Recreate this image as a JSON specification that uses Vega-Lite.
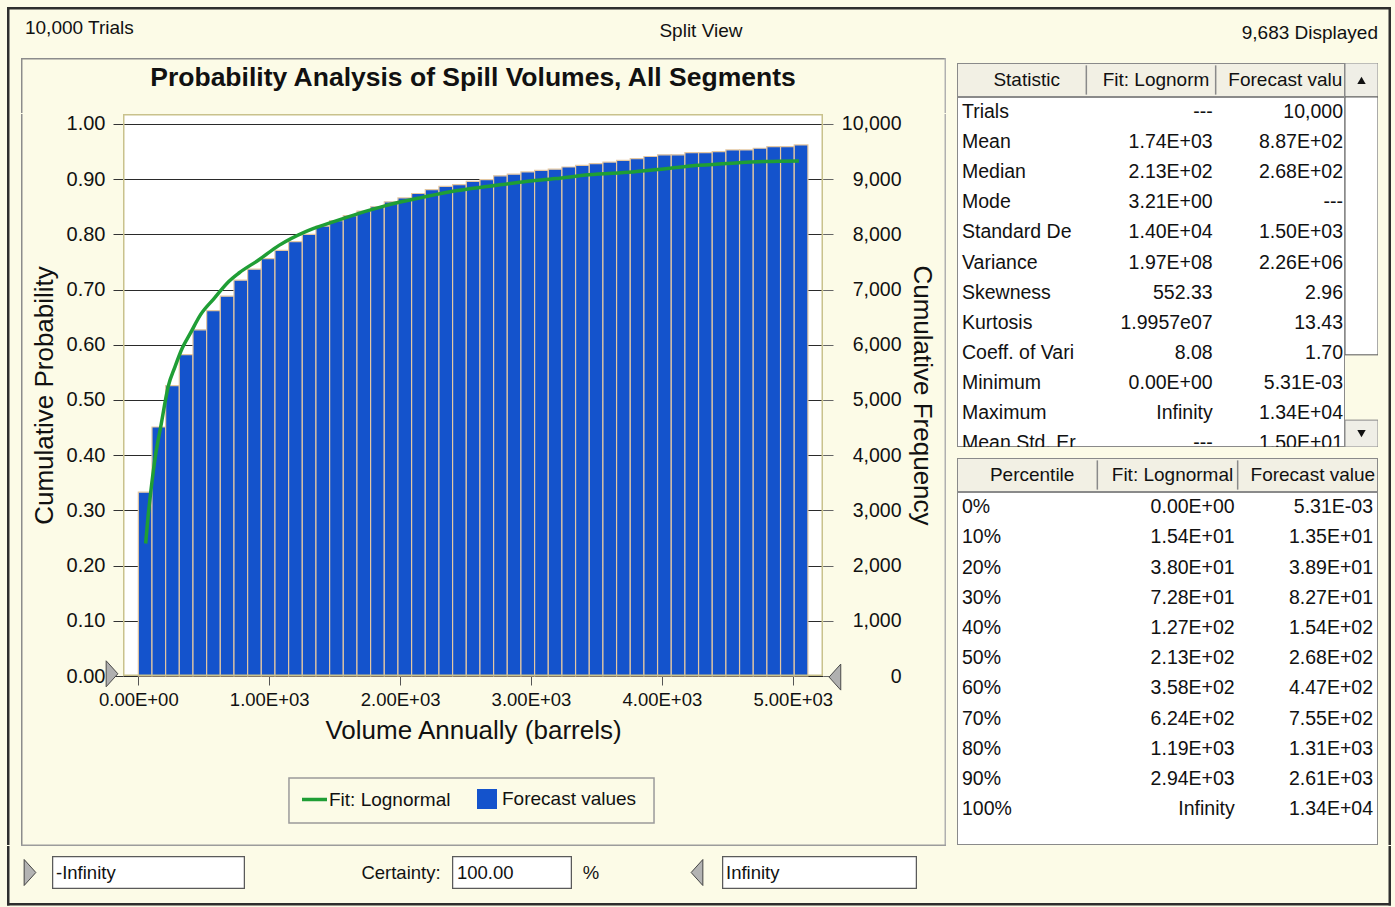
{
"$schema": "https://vega.github.io/schema/vega-lite/v6.json",
"background": "#fcfbe7",
"padding": 0,
"spacing": 0,
"config": {"font": "Liberation Sans", "view": {"stroke": null}, "text": {"font": "Liberation Sans", "color": "#111"}},
"vconcat": [
{
"width": 1395, "height": 58,
"data": {"values": [{}]},
"layer": [
 {"mark": {"type": "rect", "color": "#2e2e2e", "opacity": 1},
  "encoding": {
   "x": {"datum": 0.005018, "type": "quantitative", "scale": {"domain": [0, 1], "nice": false, "zero": false}, "axis": null},
   "x2": {"datum": 0.99713},
   "y": {"datum": 0.8793, "type": "quantitative", "scale": {"domain": [0, 1], "nice": false, "zero": false}, "axis": null},
   "y2": {"datum": 0.8362}}},
 {"mark": {"type": "rect", "color": "#2e2e2e", "opacity": 1},
  "encoding": {"x": {"datum": 0.005018, "type": "quantitative", "axis": null}, "x2": {"datum": 0.00681},
               "y": {"datum": 0.8793, "type": "quantitative", "axis": null}, "y2": {"datum": 0}}},
 {"mark": {"type": "rect", "color": "#2e2e2e", "opacity": 1},
  "encoding": {"x": {"datum": 0.99534, "type": "quantitative", "axis": null}, "x2": {"datum": 0.99713},
               "y": {"datum": 0.8793, "type": "quantitative", "axis": null}, "y2": {"datum": 0}}},
 {"mark": {"type": "text", "align": "left", "fontSize": 19, "clip": true},
  "encoding": {"x": {"datum": 0.0179, "type": "quantitative", "axis": null}, "y": {"datum": 0.517, "type": "quantitative", "axis": null}, "text": {"value": "10,000 Trials"}}},
 {"mark": {"type": "text", "align": "center", "fontSize": 19, "clip": true},
  "encoding": {"x": {"datum": 0.5025, "type": "quantitative", "axis": null}, "y": {"datum": 0.466, "type": "quantitative", "axis": null}, "text": {"value": "Split View"}}},
 {"mark": {"type": "text", "align": "right", "fontSize": 19, "clip": true},
  "encoding": {"x": {"datum": 0.9878, "type": "quantitative", "axis": null}, "y": {"datum": 0.431, "type": "quantitative", "axis": null}, "text": {"value": "9,683 Displayed"}}}
]
},
{
"spacing": 0,
"hconcat": [
 {"width": 20, "height": 787, "data": {"values": [{}]},
  "mark": {"type": "rect", "color": "#2e2e2e", "opacity": 1},
  "encoding": {"x": {"datum": 0.35, "type": "quantitative", "scale": {"domain": [0, 1], "nice": false, "zero": false}, "axis": null}, "x2": {"datum": 0.475}}},
 {"spacing": 0, "vconcat": [
  {"width": 700, "height": 55,
   "data": {"values": [{"t": "Probability Analysis of Spill Volumes, All Segments"}]},
   "layer": [
    {"mark": {"type": "text", "fontSize": 26.5, "fontWeight": "bold", "dy": -7.5}, "encoding": {"text": {"field": "t"}}},
    {"mark": {"type": "rect", "color": "#8c8c8c", "opacity": 1},
     "encoding": {"x": {"datum": -0.1457, "type": "quantitative", "scale": {"domain": [0, 1], "nice": false, "zero": false}, "axis": null},
                  "x2": {"datum": 1.1757},
                  "y": {"datum": 1, "type": "quantitative", "scale": {"domain": [0, 1], "nice": false, "zero": false}, "axis": null},
                  "y2": {"datum": 0.9727}}},
    {"mark": {"type": "rect", "color": "#8c8c8c", "opacity": 1},
     "encoding": {"x": {"datum": -0.1457, "type": "quantitative", "axis": null}, "x2": {"datum": -0.1436},
                  "y": {"datum": 1, "type": "quantitative", "axis": null}, "y2": {"datum": 0}}},
    {"mark": {"type": "rect", "color": "#b0b0b0", "opacity": 1},
     "encoding": {"x": {"datum": 1.1736, "type": "quantitative", "axis": null}, "x2": {"datum": 1.1757},
                  "y": {"datum": 1, "type": "quantitative", "axis": null}, "y2": {"datum": 0}}}
   ]},
  {"width": 700, "height": 562,
   "view": {"fill": "white"},
   "resolve": {"axis": {"y": "independent"}},
   "layer": [
    {"data": {"values": [
      {"lo": 0, "hi": 104.4, "cum": 0.333},
      {"lo": 104.4, "hi": 208.8, "cum": 0.451},
      {"lo": 208.8, "hi": 313.2, "cum": 0.526},
      {"lo": 313.2, "hi": 417.6, "cum": 0.582},
      {"lo": 417.6, "hi": 522, "cum": 0.627},
      {"lo": 522, "hi": 626.4, "cum": 0.662},
      {"lo": 626.4, "hi": 730.8, "cum": 0.688},
      {"lo": 730.8, "hi": 835.2, "cum": 0.717},
      {"lo": 835.2, "hi": 939.6, "cum": 0.737},
      {"lo": 939.6, "hi": 1044, "cum": 0.756},
      {"lo": 1044, "hi": 1148.4, "cum": 0.771},
      {"lo": 1148.4, "hi": 1252.8, "cum": 0.787},
      {"lo": 1252.8, "hi": 1357.2, "cum": 0.8},
      {"lo": 1357.2, "hi": 1461.6, "cum": 0.815},
      {"lo": 1461.6, "hi": 1566, "cum": 0.825},
      {"lo": 1566, "hi": 1670.4, "cum": 0.834},
      {"lo": 1670.4, "hi": 1774.8, "cum": 0.842},
      {"lo": 1774.8, "hi": 1879.2, "cum": 0.85},
      {"lo": 1879.2, "hi": 1983.6, "cum": 0.859},
      {"lo": 1983.6, "hi": 2088, "cum": 0.866},
      {"lo": 2088, "hi": 2192.4, "cum": 0.874},
      {"lo": 2192.4, "hi": 2296.8, "cum": 0.881},
      {"lo": 2296.8, "hi": 2401.2, "cum": 0.887},
      {"lo": 2401.2, "hi": 2505.6, "cum": 0.89},
      {"lo": 2505.6, "hi": 2610, "cum": 0.896},
      {"lo": 2610, "hi": 2714.4, "cum": 0.899},
      {"lo": 2714.4, "hi": 2818.8, "cum": 0.906},
      {"lo": 2818.8, "hi": 2923.2, "cum": 0.909},
      {"lo": 2923.2, "hi": 3027.6, "cum": 0.913},
      {"lo": 3027.6, "hi": 3132, "cum": 0.916},
      {"lo": 3132, "hi": 3236.4, "cum": 0.918},
      {"lo": 3236.4, "hi": 3340.8, "cum": 0.922},
      {"lo": 3340.8, "hi": 3445.2, "cum": 0.925},
      {"lo": 3445.2, "hi": 3549.6, "cum": 0.928},
      {"lo": 3549.6, "hi": 3654, "cum": 0.931},
      {"lo": 3654, "hi": 3758.4, "cum": 0.934},
      {"lo": 3758.4, "hi": 3862.8, "cum": 0.937},
      {"lo": 3862.8, "hi": 3967.2, "cum": 0.941},
      {"lo": 3967.2, "hi": 4071.6, "cum": 0.944},
      {"lo": 4071.6, "hi": 4176, "cum": 0.944},
      {"lo": 4176, "hi": 4280.4, "cum": 0.948},
      {"lo": 4280.4, "hi": 4384.8, "cum": 0.948},
      {"lo": 4384.8, "hi": 4489.2, "cum": 0.95},
      {"lo": 4489.2, "hi": 4593.6, "cum": 0.953},
      {"lo": 4593.6, "hi": 4698, "cum": 0.953},
      {"lo": 4698, "hi": 4802.4, "cum": 0.956},
      {"lo": 4802.4, "hi": 4906.8, "cum": 0.959},
      {"lo": 4906.8, "hi": 5011.2, "cum": 0.959},
      {"lo": 5011.2, "hi": 5115.6, "cum": 0.962}
     ]},
     "mark": {"type": "rect", "stroke": "#e3c7a2", "strokeWidth": 1.2},
     "encoding": {
      "x": {"field": "lo", "type": "quantitative", "scale": {"domain": [-117, 5231], "nice": false, "zero": false},
            "axis": {"orient": "bottom", "title": "Volume Annually (barrels)", "values": [0, 1000, 2000, 3000, 4000, 5000],
                     "labelExpr": "datum.value == 0 ? '0.00E+00' : format(datum.value / 1000, '.2f') + 'E+03'",
                     "grid": false, "domain": false, "tickColor": "#555", "tickSize": 9, "labelPadding": 5,
                     "labelFontSize": 18.5, "labelColor": "#111", "titleFontSize": 26, "titleFontWeight": "normal",
                     "titleColor": "#111", "titlePadding": 9, "labelFlush": false, "labelOverlap": false}},
      "x2": {"field": "hi"},
      "y": {"field": "cum", "type": "quantitative", "scale": {"domain": [0, 1.018], "nice": false, "zero": false},
            "axis": {"title": "Cumulative Probability", "values": [0, 0.1, 0.2, 0.3, 0.4, 0.5, 0.6, 0.7, 0.8, 0.9, 1],
                     "format": ".2f", "grid": true, "gridColor": "#2a2a2a", "gridWidth": 1, "domain": false,
                     "tickColor": "#333", "tickSize": 10, "labelPadding": 8, "labelFontSize": 20, "labelColor": "#111",
                     "titleFontSize": 26, "titleFontWeight": "normal", "titleColor": "#111", "titlePadding": 9,
                     "labelFlush": false, "labelOverlap": false}},
      "y2": {"datum": 0},
      "color": {"datum": "Forecast values", "type": "nominal",
                "scale": {"domain": ["Forecast values"], "range": ["#1453cc"]},
                "legend": {"orient": "none", "legendX": 477, "legendY": 789, "title": null, "padding": 0,
                           "labelFontSize": 19, "labelColor": "#111", "labelFont": "Liberation Sans", "symbolSize": 400,
                           "symbolType": "square", "symbolStrokeColor": "transparent", "symbolStrokeWidth": 0, "symbolOpacity": 1,
                           "labelOffset": 5}}
     }},
    {"data": {"values": [
      {"v": 56, "cum": 0.24}, {"v": 75, "cum": 0.29}, {"v": 95, "cum": 0.333}, {"v": 133, "cum": 0.402},
      {"v": 171, "cum": 0.451}, {"v": 229, "cum": 0.525}, {"v": 280, "cum": 0.56}, {"v": 336, "cum": 0.594},
      {"v": 400, "cum": 0.622}, {"v": 477, "cum": 0.655}, {"v": 580, "cum": 0.684}, {"v": 693, "cum": 0.715},
      {"v": 769, "cum": 0.73}, {"v": 922, "cum": 0.754}, {"v": 1075, "cum": 0.78}, {"v": 1279, "cum": 0.805},
      {"v": 1482, "cum": 0.822}, {"v": 1686, "cum": 0.838}, {"v": 1890, "cum": 0.852}, {"v": 2170, "cum": 0.867},
      {"v": 2425, "cum": 0.879}, {"v": 2679, "cum": 0.887}, {"v": 2934, "cum": 0.895}, {"v": 3189, "cum": 0.901},
      {"v": 3443, "cum": 0.908}, {"v": 3774, "cum": 0.913}, {"v": 4029, "cum": 0.919}, {"v": 4284, "cum": 0.925},
      {"v": 4538, "cum": 0.929}, {"v": 4793, "cum": 0.932}, {"v": 5047, "cum": 0.933}
     ]},
     "mark": {"type": "line", "strokeWidth": 3.5, "interpolate": "monotone"},
     "encoding": {
      "x": {"field": "v", "type": "quantitative", "scale": {"domain": [-117, 5231], "nice": false, "zero": false},
            "axis": {"orient": "bottom", "title": "Volume Annually (barrels)", "values": [0, 1000, 2000, 3000, 4000, 5000],
                     "labelExpr": "datum.value == 0 ? '0.00E+00' : format(datum.value / 1000, '.2f') + 'E+03'",
                     "grid": false, "domain": false, "tickColor": "#555", "tickSize": 9, "labelPadding": 5,
                     "labelFontSize": 18.5, "labelColor": "#111", "titleFontSize": 26, "titleFontWeight": "normal",
                     "titleColor": "#111", "titlePadding": 9, "labelFlush": false, "labelOverlap": false}},
      "y": {"field": "cum", "type": "quantitative", "scale": {"domain": [0, 1.018], "nice": false, "zero": false},
            "axis": {"orient": "right", "title": "Cumulative Frequency", "values": [0, 0.1, 0.2, 0.3, 0.4, 0.5, 0.6, 0.7, 0.8, 0.9, 1],
                     "labelExpr": "format(datum.value * 10000, ',.0f')", "grid": false, "domain": false,
                     "tickColor": "#666", "tickSize": 10, "labelPadding": 68, "labelAlign": "right", "labelFontSize": 19.5, "labelColor": "#111",
                     "titleFontSize": 26, "titleFontWeight": "normal", "titleColor": "#111", "titlePadding": 7,
                     "labelFlush": false, "labelOverlap": false}},
      "stroke": {"datum": "Fit: Lognormal", "type": "nominal",
                 "scale": {"domain": ["Fit: Lognormal"], "range": ["#1f9e35"]},
                 "legend": {"orient": "none", "legendX": 300, "legendY": 785, "title": null, "padding": 0,
                            "labelFontSize": 19, "labelColor": "#111", "labelFont": "Liberation Sans",
                            "symbolType": "stroke", "symbolSize": 625, "symbolStrokeWidth": 3.5, "labelOffset": 0}}
     }},
    {"data": {"values": [{}]},
     "mark": {"type": "rect", "filled": false, "stroke": "#c9c28c", "strokeWidth": 3, "clip": true},
     "encoding": {}},
    {"data": {"values": [{}]},
     "mark": {"type": "rect", "color": "#8c8c8c", "opacity": 1},
     "encoding": {
      "x": {"datum": -896.3, "type": "quantitative", "scale": {"domain": [-117, 5231], "nice": false, "zero": false},
            "axis": {"orient": "bottom", "title": "Volume Annually (barrels)", "values": [0, 1000, 2000, 3000, 4000, 5000],
                     "labelExpr": "datum.value == 0 ? '0.00E+00' : format(datum.value / 1000, '.2f') + 'E+03'",
                     "grid": false, "domain": false, "tickColor": "#555", "tickSize": 9, "labelPadding": 5,
                     "labelFontSize": 18.5, "labelColor": "#111", "titleFontSize": 26, "titleFontWeight": "normal",
                     "titleColor": "#111", "titlePadding": 9, "labelFlush": false, "labelOverlap": false}},
      "x2": {"datum": -884.8},
      "y": {"datum": 1.018, "type": "quantitative", "scale": {"domain": [0, 1.018], "nice": false, "zero": false}, "axis": null},
      "y2": {"datum": -0.3079}}},
    {"data": {"values": [{}]},
     "mark": {"type": "rect", "color": "#b0b0b0", "opacity": 1},
     "encoding": {
      "x": {"datum": 6159.3, "type": "quantitative", "scale": {"domain": [-117, 5231], "nice": false, "zero": false},
            "axis": {"orient": "bottom", "title": "Volume Annually (barrels)", "values": [0, 1000, 2000, 3000, 4000, 5000],
                     "labelExpr": "datum.value == 0 ? '0.00E+00' : format(datum.value / 1000, '.2f') + 'E+03'",
                     "grid": false, "domain": false, "tickColor": "#555", "tickSize": 9, "labelPadding": 5,
                     "labelFontSize": 18.5, "labelColor": "#111", "titleFontSize": 26, "titleFontWeight": "normal",
                     "titleColor": "#111", "titlePadding": 9, "labelFlush": false, "labelOverlap": false}},
      "x2": {"datum": 6170.8},
      "y": {"datum": 1.018, "type": "quantitative", "scale": {"domain": [0, 1.018], "nice": false, "zero": false}, "axis": null},
      "y2": {"datum": -0.3079}}},
    {"data": {"values": [{}]},
     "mark": {"type": "rect", "color": "#9c9c9c", "opacity": 1},
     "encoding": {
      "x": {"datum": -896.3, "type": "quantitative", "scale": {"domain": [-117, 5231], "nice": false, "zero": false},
            "axis": {"orient": "bottom", "title": "Volume Annually (barrels)", "values": [0, 1000, 2000, 3000, 4000, 5000],
                     "labelExpr": "datum.value == 0 ? '0.00E+00' : format(datum.value / 1000, '.2f') + 'E+03'",
                     "grid": false, "domain": false, "tickColor": "#555", "tickSize": 9, "labelPadding": 5,
                     "labelFontSize": 18.5, "labelColor": "#111", "titleFontSize": 26, "titleFontWeight": "normal",
                     "titleColor": "#111", "titlePadding": 9, "labelFlush": false, "labelOverlap": false}},
      "x2": {"datum": 6170.8},
      "y": {"datum": -0.3052, "type": "quantitative", "scale": {"domain": [0, 1.018], "nice": false, "zero": false}, "axis": null},
      "y2": {"datum": -0.3079}}},
    {"data": {"values": [{}]},
     "mark": {"type": "rect", "filled": false, "stroke": "#9b9b9b", "strokeWidth": 1.5},
     "encoding": {
      "x": {"datum": 1151, "type": "quantitative", "scale": {"domain": [-117, 5231], "nice": false, "zero": false},
            "axis": {"orient": "bottom", "title": "Volume Annually (barrels)", "values": [0, 1000, 2000, 3000, 4000, 5000],
                     "labelExpr": "datum.value == 0 ? '0.00E+00' : format(datum.value / 1000, '.2f') + 'E+03'",
                     "grid": false, "domain": false, "tickColor": "#555", "tickSize": 9, "labelPadding": 5,
                     "labelFontSize": 18.5, "labelColor": "#111", "titleFontSize": 26, "titleFontWeight": "normal",
                     "titleColor": "#111", "titlePadding": 9, "labelFlush": false, "labelOverlap": false}},
      "x2": {"datum": 3940},
      "y": {"datum": -0.1848, "type": "quantitative", "scale": {"domain": [0, 1.018], "nice": false, "zero": false}, "axis": null},
      "y2": {"datum": -0.2663}}},
    {"data": {"values": [{}]},
     "mark": {"type": "point", "shape": "M-0.45,-1L0.45,0L-0.45,1Z", "size": 676, "filled": true, "fill": "#b0b0b0", "stroke": "#4a4a4a", "strokeWidth": 1, "opacity": 1},
     "encoding": {
      "x": {"datum": -201, "type": "quantitative", "scale": {"domain": [-117, 5231], "nice": false, "zero": false},
            "axis": {"orient": "bottom", "title": "Volume Annually (barrels)", "values": [0, 1000, 2000, 3000, 4000, 5000],
                     "labelExpr": "datum.value == 0 ? '0.00E+00' : format(datum.value / 1000, '.2f') + 'E+03'",
                     "grid": false, "domain": false, "tickColor": "#555", "tickSize": 9, "labelPadding": 5,
                     "labelFontSize": 18.5, "labelColor": "#111", "titleFontSize": 26, "titleFontWeight": "normal",
                     "titleColor": "#111", "titlePadding": 9, "labelFlush": false, "labelOverlap": false}},
      "y": {"datum": 0.004, "type": "quantitative", "scale": {"domain": [0, 1.018], "nice": false, "zero": false}, "axis": null}}},
    {"data": {"values": [{}]},
     "mark": {"type": "point", "shape": "M0.45,-1L-0.45,0L0.45,1Z", "size": 676, "filled": true, "fill": "#b0b0b0", "stroke": "#4a4a4a", "strokeWidth": 1, "opacity": 1},
     "encoding": {
      "x": {"datum": 5322, "type": "quantitative", "scale": {"domain": [-117, 5231], "nice": false, "zero": false},
            "axis": {"orient": "bottom", "title": "Volume Annually (barrels)", "values": [0, 1000, 2000, 3000, 4000, 5000],
                     "labelExpr": "datum.value == 0 ? '0.00E+00' : format(datum.value / 1000, '.2f') + 'E+03'",
                     "grid": false, "domain": false, "tickColor": "#555", "tickSize": 9, "labelPadding": 5,
                     "labelFontSize": 18.5, "labelColor": "#111", "titleFontSize": 26, "titleFontWeight": "normal",
                     "titleColor": "#111", "titlePadding": 9, "labelFlush": false, "labelOverlap": false}},
      "y": {"datum": -0.002, "type": "quantitative", "scale": {"domain": [0, 1.018], "nice": false, "zero": false}, "axis": null}}}
   ]}
 ]},
 {"width": 10, "height": 787, "data": {"values": [{}]}, "mark": {"type": "rect", "opacity": 0}, "encoding": {}},
 {"spacing": 0, "vconcat": [
  {"width": 421, "height": 5, "data": {"values": [{}]}, "mark": {"type": "rect", "opacity": 0}, "encoding": {}},
  {"spacing": 0, "hconcat": [
   {"spacing": 0, "vconcat": [
    {"width": 388, "height": 34,
     "view": {"fill": "#f2f0e4"},
     "data": {"values": [{"col": "Statistic"}, {"col": "Fit: Lognorm"}, {"col": "Forecast valu"}]},
     "layer": [
      {"mark": {"type": "rect", "filled": false, "stroke": "#8a8a8a", "strokeWidth": 2, "clip": true}, "encoding": {}},
      {"transform": [{"filter": "datum.col != 'Forecast valu'"}],
       "mark": {"type": "rule", "color": "#8a8a8a", "strokeWidth": 1.5, "clip": true},
       "encoding": {"x": {"field": "col", "type": "nominal", "bandPosition": 1,
                          "scale": {"type": "band", "domain": ["Statistic", "Fit: Lognorm", "Forecast valu"], "paddingInner": 0, "paddingOuter": 0}, "axis": null},
                    "y": {"datum": 0.07, "type": "quantitative", "scale": {"domain": [0, 1], "nice": false, "zero": false}, "axis": null},
                    "y2": {"datum": 0.93}}},
      {"mark": {"type": "text", "fontSize": 19, "dx": 5, "clip": true},
       "encoding": {"x": {"field": "col", "type": "nominal", "bandPosition": 0.5,
                          "scale": {"type": "band", "domain": ["Statistic", "Fit: Lognorm", "Forecast valu"], "paddingInner": 0, "paddingOuter": 0}, "axis": null},
                    "text": {"field": "col"}}}
     ]},
    {"width": 388, "height": 350,
     "view": {"fill": "white"},
     "data": {"values": [
      {"stat": "Trials", "fit": "---", "fc": "10,000"},
      {"stat": "Mean", "fit": "1.74E+03", "fc": "8.87E+02"},
      {"stat": "Median", "fit": "2.13E+02", "fc": "2.68E+02"},
      {"stat": "Mode", "fit": "3.21E+00", "fc": "---"},
      {"stat": "Standard De", "fit": "1.40E+04", "fc": "1.50E+03"},
      {"stat": "Variance", "fit": "1.97E+08", "fc": "2.26E+06"},
      {"stat": "Skewness", "fit": "552.33", "fc": "2.96"},
      {"stat": "Kurtosis", "fit": "1.9957e07", "fc": "13.43"},
      {"stat": "Coeff. of Vari", "fit": "8.08", "fc": "1.70"},
      {"stat": "Minimum", "fit": "0.00E+00", "fc": "5.31E-03"},
      {"stat": "Maximum", "fit": "Infinity", "fc": "1.34E+04"},
      {"stat": "Mean Std. Er", "fit": "---", "fc": "1.50E+01"}
     ]},
     "layer": [
      {"mark": {"type": "rect", "filled": false, "stroke": "#8a8a8a", "strokeWidth": 2, "clip": true}, "encoding": {}},
      {"mark": {"type": "text", "align": "left", "dx": 5, "fontSize": 19.5, "clip": true},
       "encoding": {"x": {"datum": "Statistic", "type": "nominal", "bandPosition": 0,
                          "scale": {"type": "band", "domain": ["Statistic", "Fit: Lognorm", "Forecast valu"], "paddingInner": 0, "paddingOuter": 0}, "axis": null},
                    "y": {"field": "stat", "type": "nominal", "sort": null,
                          "scale": {"type": "band", "range": [0, 361.2], "paddingInner": 0, "paddingOuter": 0}, "axis": null},
                    "text": {"field": "stat"}}},
      {"mark": {"type": "text", "align": "right", "dx": -3, "fontSize": 19.5, "clip": true},
       "encoding": {"x": {"datum": "Fit: Lognorm", "type": "nominal", "bandPosition": 1, "axis": null},
                    "y": {"field": "stat", "type": "nominal", "sort": null, "axis": null},
                    "text": {"field": "fit"}}},
      {"mark": {"type": "text", "align": "right", "dx": -2, "fontSize": 19.5, "clip": true},
       "encoding": {"x": {"datum": "Forecast valu", "type": "nominal", "bandPosition": 1, "axis": null},
                    "y": {"field": "stat", "type": "nominal", "sort": null, "axis": null},
                    "text": {"field": "fc"}}}
     ]}
   ]},
   {"width": 33, "height": 384,
    "data": {"values": [{}]},
    "layer": [
     {"mark": {"type": "rect", "fill": "#efeee6", "stroke": "#8a8a8a", "clip": true},
      "encoding": {"y": {"datum": 0, "type": "quantitative", "scale": {"domain": [0, 1], "reverse": true, "nice": false, "zero": false}, "axis": null}, "y2": {"datum": 0.0885}}},
     {"mark": {"type": "rect", "fill": "white", "stroke": "#555", "clip": true},
      "encoding": {"y": {"datum": 0.0885, "type": "quantitative", "axis": null}, "y2": {"datum": 0.76}}},
     {"mark": {"type": "rect", "fill": "#efeee6", "stroke": "#8a8a8a", "clip": true},
      "encoding": {"y": {"datum": 0.93, "type": "quantitative", "axis": null}, "y2": {"datum": 1}}},
     {"mark": {"type": "point", "shape": "triangle-up", "size": 70, "filled": true, "color": "#111", "opacity": 1, "clip": true},
      "encoding": {"y": {"datum": 0.045, "type": "quantitative", "axis": null}}},
     {"mark": {"type": "point", "shape": "triangle-down", "size": 70, "filled": true, "color": "#111", "opacity": 1, "clip": true},
      "encoding": {"y": {"datum": 0.965, "type": "quantitative", "axis": null}}}
    ]}
  ]},
  {"width": 421, "height": 11, "data": {"values": [{}]}, "mark": {"type": "rect", "opacity": 0}, "encoding": {}},
  {"width": 421, "height": 34,
   "view": {"fill": "#f2f0e4"},
   "data": {"values": [{"col": "Percentile"}, {"col": "Fit: Lognormal"}, {"col": "Forecast value"}]},
   "layer": [
    {"mark": {"type": "rect", "filled": false, "stroke": "#8a8a8a", "strokeWidth": 2, "clip": true}, "encoding": {}},
    {"transform": [{"filter": "datum.col != 'Forecast value'"}],
     "mark": {"type": "rule", "color": "#8a8a8a", "strokeWidth": 1.5, "clip": true},
     "encoding": {"x": {"field": "col", "type": "nominal", "bandPosition": 1,
                        "scale": {"type": "band", "domain": ["Percentile", "Fit: Lognormal", "Forecast value"], "paddingInner": 0, "paddingOuter": 0}, "axis": null},
                  "y": {"datum": 0.07, "type": "quantitative", "scale": {"domain": [0, 1], "nice": false, "zero": false}, "axis": null},
                  "y2": {"datum": 0.93}}},
    {"mark": {"type": "text", "fontSize": 19, "dx": 5, "clip": true},
     "encoding": {"x": {"field": "col", "type": "nominal", "bandPosition": 0.5,
                        "scale": {"type": "band", "domain": ["Percentile", "Fit: Lognormal", "Forecast value"], "paddingInner": 0, "paddingOuter": 0}, "axis": null},
                  "text": {"field": "col"}}}
   ]},
  {"width": 421, "height": 353,
   "view": {"fill": "white"},
   "data": {"values": [
    {"pct": "0%", "fit": "0.00E+00", "fc": "5.31E-03"},
    {"pct": "10%", "fit": "1.54E+01", "fc": "1.35E+01"},
    {"pct": "20%", "fit": "3.80E+01", "fc": "3.89E+01"},
    {"pct": "30%", "fit": "7.28E+01", "fc": "8.27E+01"},
    {"pct": "40%", "fit": "1.27E+02", "fc": "1.54E+02"},
    {"pct": "50%", "fit": "2.13E+02", "fc": "2.68E+02"},
    {"pct": "60%", "fit": "3.58E+02", "fc": "4.47E+02"},
    {"pct": "70%", "fit": "6.24E+02", "fc": "7.55E+02"},
    {"pct": "80%", "fit": "1.19E+03", "fc": "1.31E+03"},
    {"pct": "90%", "fit": "2.94E+03", "fc": "2.61E+03"},
    {"pct": "100%", "fit": "Infinity", "fc": "1.34E+04"}
   ]},
   "layer": [
    {"mark": {"type": "rect", "filled": false, "stroke": "#8a8a8a", "strokeWidth": 2, "clip": true}, "encoding": {}},
    {"mark": {"type": "text", "align": "left", "dx": 5, "fontSize": 19.5, "clip": true},
     "encoding": {"x": {"datum": "Percentile", "type": "nominal", "bandPosition": 0,
                        "scale": {"type": "band", "domain": ["Percentile", "Fit: Lognormal", "Forecast value"], "paddingInner": 0, "paddingOuter": 0}, "axis": null},
                  "y": {"field": "pct", "type": "nominal", "sort": null,
                        "scale": {"type": "band", "range": [0, 332.2], "paddingInner": 0, "paddingOuter": 0}, "axis": null},
                  "text": {"field": "pct"}}},
    {"mark": {"type": "text", "align": "right", "dx": -3, "fontSize": 19.5, "clip": true},
     "encoding": {"x": {"datum": "Fit: Lognormal", "type": "nominal", "bandPosition": 1, "axis": null},
                  "y": {"field": "pct", "type": "nominal", "sort": null, "axis": null},
                  "text": {"field": "fit"}}},
    {"mark": {"type": "text", "align": "right", "dx": -5, "fontSize": 19.5, "clip": true},
     "encoding": {"x": {"datum": "Forecast value", "type": "nominal", "bandPosition": 1, "axis": null},
                  "y": {"field": "pct", "type": "nominal", "sort": null, "axis": null},
                  "text": {"field": "fc"}}}
   ]}
 ]},
 {"width": 17, "height": 787, "data": {"values": [{}]},
  "mark": {"type": "rect", "color": "#2e2e2e", "opacity": 1},
  "encoding": {"x": {"datum": 0.6176, "type": "quantitative", "scale": {"domain": [0, 1], "nice": false, "zero": false}, "axis": null}, "x2": {"datum": 0.7647}}}
]
},
{
"spacing": 0,
"vconcat": [
 {"width": 1395, "height": 10, "data": {"values": [{}]},
  "layer": [
   {"mark": {"type": "rect", "color": "#2e2e2e", "opacity": 1},
    "encoding": {"x": {"datum": 0.005018, "type": "quantitative", "scale": {"domain": [0, 1], "nice": false, "zero": false}, "axis": null}, "x2": {"datum": 0.00681}}},
   {"mark": {"type": "rect", "color": "#2e2e2e", "opacity": 1},
    "encoding": {"x": {"datum": 0.99534, "type": "quantitative", "axis": null}, "x2": {"datum": 0.99713}}}
  ]},
 {"spacing": 0, "hconcat": [
  {"width": 22, "height": 33, "data": {"values": [{}]},
   "mark": {"type": "rect", "color": "#2e2e2e", "opacity": 1},
   "encoding": {"x": {"datum": 0.318, "type": "quantitative", "scale": {"domain": [0, 1], "nice": false, "zero": false}, "axis": null}, "x2": {"datum": 0.4318}}},
  {"width": 16, "height": 33, "data": {"values": [{}]},
   "mark": {"type": "point", "shape": "M-0.45,-1L0.45,0L-0.45,1Z", "size": 676, "filled": true, "fill": "#b3b3b3", "stroke": "#444", "strokeWidth": 1, "opacity": 1, "clip": true},
   "encoding": {}},
  {"width": 14, "height": 33, "data": {"values": [{}]}, "mark": {"type": "rect", "opacity": 0}, "encoding": {}},
  {"width": 193, "height": 33, "view": {"fill": "white"},
   "data": {"values": [{"t": "-Infinity"}]},
   "layer": [
    {"mark": {"type": "rect", "filled": false, "stroke": "#5a5a5a", "strokeWidth": 2.5, "clip": true}, "encoding": {}},
    {"mark": {"type": "text", "align": "left", "dx": 4, "fontSize": 18.5, "clip": true},
     "encoding": {"x": {"datum": 0, "type": "quantitative", "scale": {"domain": [0, 1]}, "axis": null}, "text": {"field": "t"}}}
   ]},
  {"width": 114, "height": 33, "data": {"values": [{}]}, "mark": {"type": "rect", "opacity": 0}, "encoding": {}},
  {"width": 84, "height": 33, "data": {"values": [{"t": "Certainty:"}]},
   "mark": {"type": "text", "fontSize": 18.5, "clip": true}, "encoding": {"text": {"field": "t"}}},
  {"width": 9, "height": 33, "data": {"values": [{}]}, "mark": {"type": "rect", "opacity": 0}, "encoding": {}},
  {"width": 120, "height": 33, "view": {"fill": "white"},
   "data": {"values": [{"t": "100.00"}]},
   "layer": [
    {"mark": {"type": "rect", "filled": false, "stroke": "#5a5a5a", "strokeWidth": 2.5, "clip": true}, "encoding": {}},
    {"mark": {"type": "text", "align": "left", "dx": 5, "fontSize": 18.5, "clip": true},
     "encoding": {"x": {"datum": 0, "type": "quantitative", "scale": {"domain": [0, 1]}, "axis": null}, "text": {"field": "t"}}}
   ]},
  {"width": 10, "height": 33, "data": {"values": [{}]}, "mark": {"type": "rect", "opacity": 0}, "encoding": {}},
  {"width": 18, "height": 33, "data": {"values": [{"t": "%"}]},
   "mark": {"type": "text", "fontSize": 18.5, "clip": true}, "encoding": {"text": {"field": "t"}}},
  {"width": 89, "height": 33, "data": {"values": [{}]}, "mark": {"type": "rect", "opacity": 0}, "encoding": {}},
  {"width": 16, "height": 33, "data": {"values": [{}]},
   "mark": {"type": "point", "shape": "M0.45,-1L-0.45,0L0.45,1Z", "size": 676, "filled": true, "fill": "#b3b3b3", "stroke": "#444", "strokeWidth": 1, "opacity": 1, "clip": true},
   "encoding": {}},
  {"width": 17, "height": 33, "data": {"values": [{}]}, "mark": {"type": "rect", "opacity": 0}, "encoding": {}},
  {"width": 195, "height": 33, "view": {"fill": "white"},
   "data": {"values": [{"t": "Infinity"}]},
   "layer": [
    {"mark": {"type": "rect", "filled": false, "stroke": "#5a5a5a", "strokeWidth": 2.5, "clip": true}, "encoding": {}},
    {"mark": {"type": "text", "align": "left", "dx": 4, "fontSize": 18.5, "clip": true},
     "encoding": {"x": {"datum": 0, "type": "quantitative", "scale": {"domain": [0, 1]}, "axis": null}, "text": {"field": "t"}}}
   ]},
  {"width": 478, "height": 33, "data": {"values": [{}]},
   "mark": {"type": "rect", "color": "#2e2e2e", "opacity": 1},
   "encoding": {"x": {"datum": 0.9864, "type": "quantitative", "scale": {"domain": [0, 1], "nice": false, "zero": false}, "axis": null}, "x2": {"datum": 0.99163}}}
 ]},
 {"width": 1395, "height": 19, "data": {"values": [{}]},
  "layer": [
   {"mark": {"type": "rect", "color": "#2e2e2e", "opacity": 1},
    "encoding": {"x": {"datum": 0.005018, "type": "quantitative", "scale": {"domain": [0, 1], "nice": false, "zero": false}, "axis": null},
                 "x2": {"datum": 0.00681},
                 "y": {"datum": 1, "type": "quantitative", "scale": {"domain": [0, 1], "nice": false, "zero": false}, "axis": null},
                 "y2": {"datum": 0.1316}}},
   {"mark": {"type": "rect", "color": "#2e2e2e", "opacity": 1},
    "encoding": {"x": {"datum": 0.99534, "type": "quantitative", "axis": null}, "x2": {"datum": 0.99713},
                 "y": {"datum": 1, "type": "quantitative", "axis": null}, "y2": {"datum": 0.1316}}},
   {"mark": {"type": "rect", "color": "#2e2e2e", "opacity": 1},
    "encoding": {"x": {"datum": 0.005018, "type": "quantitative", "axis": null}, "x2": {"datum": 0.99713},
                 "y": {"datum": 0.2632, "type": "quantitative", "axis": null}, "y2": {"datum": 0.1316}}}
  ]}
]
}
]
}
